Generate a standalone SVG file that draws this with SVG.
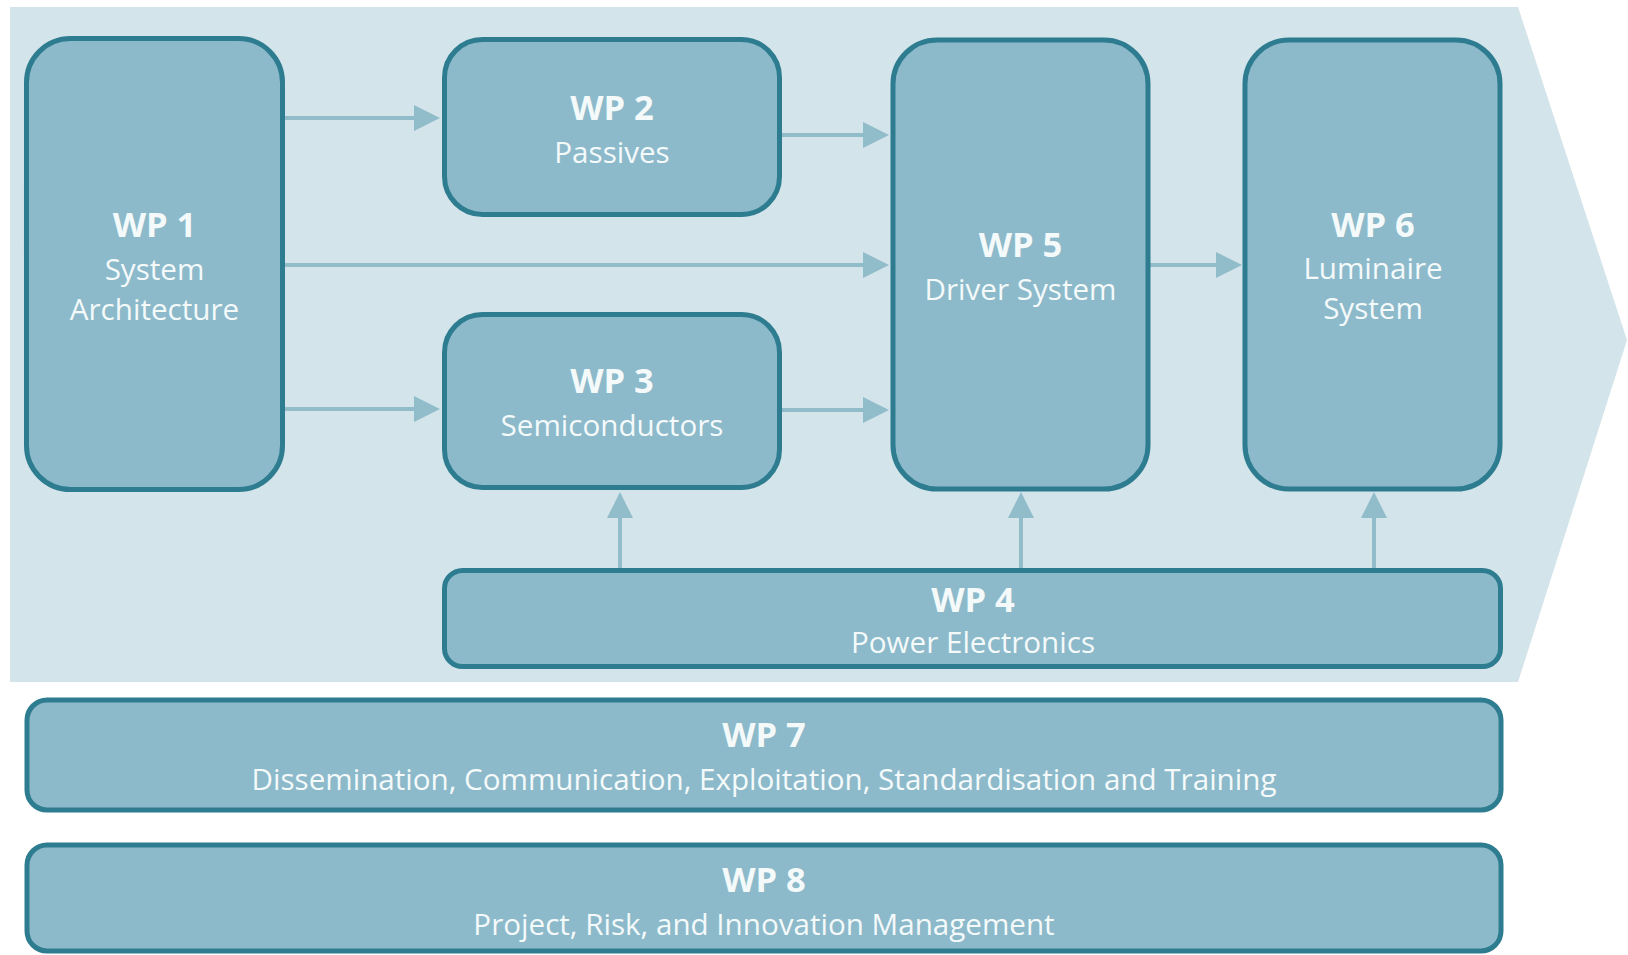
<svg xmlns="http://www.w3.org/2000/svg" width="1628" height="955" viewBox="0 0 1628 955">
  <defs>
    <style>
      .box { fill: #8CBACA; stroke: #2E7C90; stroke-width: 5; }
      .conn { stroke: #91BDCB; stroke-width: 4; fill: none; marker-end: url(#ah); }
      .t { font-family: "Open Sans", "Noto Sans", sans-serif; fill: #F4F9FA; text-anchor: middle; }
      .h { font-weight: bold; font-size: 34.5px; }
      .s { font-size: 29.6px; }
    </style>
    <marker id="ah" markerUnits="userSpaceOnUse" markerWidth="26" markerHeight="26" refX="4" refY="13" orient="auto" viewBox="0 0 26 26">
      <path d="M0,0 L26,13 L0,26 z" fill="#91BDCB"/>
    </marker>
  </defs>
  <rect x="0" y="0" width="1628" height="955" fill="#FFFFFF"/>
  <polygon id="bg" points="10,7 1518,7 1627,340 1518,682 10,682" fill="#D3E4EA"/>

  <g id="connectors">
    <line class="conn" x1="285" y1="118" x2="418" y2="118"/>
    <line class="conn" x1="285" y1="265" x2="867" y2="265"/>
    <line class="conn" x1="285" y1="409" x2="418" y2="409"/>
    <line class="conn" x1="782" y1="135" x2="867" y2="135"/>
    <line class="conn" x1="782" y1="410" x2="867" y2="410"/>
    <line class="conn" x1="1150" y1="265" x2="1220" y2="265"/>
    <line class="conn" x1="620" y1="568" x2="620" y2="514"/>
    <line class="conn" x1="1021" y1="568" x2="1021" y2="514"/>
    <line class="conn" x1="1374" y1="568" x2="1374" y2="514"/>
  </g>

  <g id="wp1">
    <rect class="box" x="26.5" y="38.5" width="256" height="451" rx="44"/>
    <text class="t h" x="154.5" y="237">WP 1</text>
    <text class="t s" x="154.5" y="280">System</text>
    <text class="t s" x="154.5" y="320">Architecture</text>
  </g>
  <g id="wp2">
    <rect class="box" x="444.5" y="39.5" width="335" height="175" rx="38"/>
    <text class="t h" x="612" y="120">WP 2</text>
    <text class="t s" x="612" y="163">Passives</text>
  </g>
  <g id="wp3">
    <rect class="box" x="444.5" y="314.5" width="335" height="173" rx="38"/>
    <text class="t h" x="612" y="393">WP 3</text>
    <text class="t s" x="612" y="436">Semiconductors</text>
  </g>
  <g id="wp5">
    <rect class="box" x="893" y="40" width="255" height="449" rx="44"/>
    <text class="t h" x="1020.5" y="257">WP 5</text>
    <text class="t s" x="1020.5" y="300">Driver System</text>
  </g>
  <g id="wp6">
    <rect class="box" x="1245" y="40" width="255" height="449" rx="44"/>
    <text class="t h" x="1373" y="237">WP 6</text>
    <text class="t s" x="1373" y="279">Luminaire</text>
    <text class="t s" x="1373" y="319">System</text>
  </g>
  <g id="wp4">
    <rect class="box" x="444.5" y="570.5" width="1056" height="96" rx="18"/>
    <text class="t h" x="973" y="612">WP 4</text>
    <text class="t s" x="973" y="653">Power Electronics</text>
  </g>
  <g id="wp7">
    <rect class="box" x="27" y="700" width="1474" height="110" rx="20"/>
    <text class="t h" x="764" y="747">WP 7</text>
    <text class="t s" x="764" y="790">Dissemination, Communication, Exploitation, Standardisation and Training</text>
  </g>
  <g id="wp8">
    <rect class="box" x="27" y="845" width="1474" height="106" rx="20"/>
    <text class="t h" x="764" y="892">WP 8</text>
    <text class="t s" x="764" y="935">Project, Risk, and Innovation Management</text>
  </g>
</svg>
